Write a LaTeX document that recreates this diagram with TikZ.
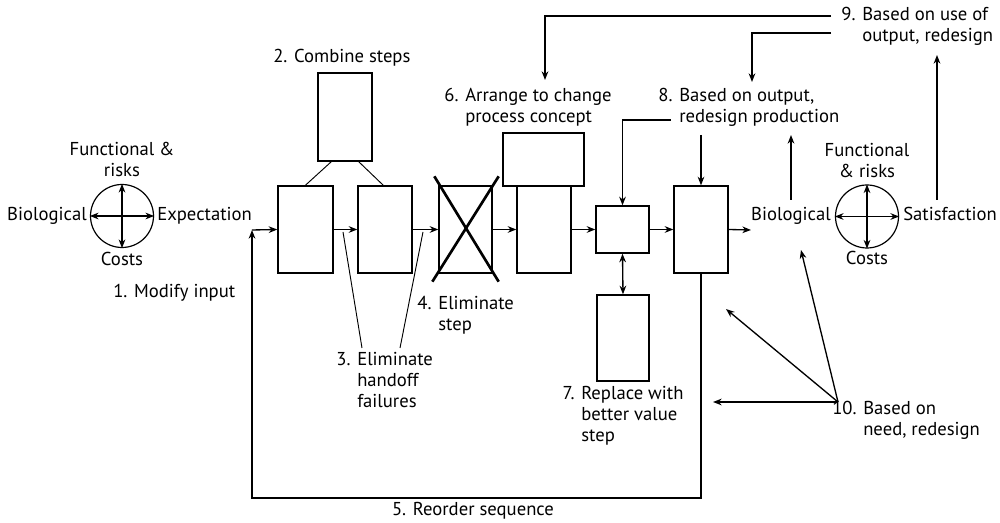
\documentclass[tikz,border=0pt]{standalone}
\usepackage{fontspec}
\setmainfont{PT Sans}
\usetikzlibrary{arrows.meta,fit,calc}
\newcommand{\mlines}[2][l]{\begin{tabular}[t]{@{}#1@{}}#2\end{tabular}}
\begin{document}
\begin{tikzpicture}[x=0.75pt,y=-0.75pt,
  lbl/.style={inner sep=0pt, font=\fontsize{14}{15.75}\selectfont},
  stepbox/.style={draw, line width=1pt, inner sep=0pt},
  arr/.style={-{Stealth[length=6.5pt,width=5pt]}, line width=1pt},
  darr/.style={{Stealth[length=6.5pt,width=5pt]}-{Stealth[length=6.5pt,width=5pt]}, line width=1pt},
  thinline/.style={line width=0.7pt},
  crossline/.style={line width=2pt},
  loopline/.style={line width=1.3pt},
  ring/.style={circle, draw, line width=0.9pt, minimum size=47.25pt, inner sep=0pt}]
\useasboundingbox (0,0) rectangle (1000,523);

% ---- left compass
\node[ring] (c1) at (122,216) {};
\draw[darr] (c1.west) -- (c1.east);
\draw[darr] (c1.north) -- (c1.south);
\node[lbl, anchor=base] (fr1) at (122,156) {\mlines[c]{Functional \&\\risks}};
\node[lbl, anchor=base] (co1) at (122,266) {Costs};
\node[lbl, anchor=base east] (bi1) at (87,221) {Biological};
\node[lbl, anchor=base west] (ex1) at (157,221) {Expectation};
\node[lbl, anchor=base west] (l1) at (113,298) {1. Modify input};

% ---- boxes
\node[stepbox, fit={(278,186) (333,273)}] (A) {};
\node[stepbox, fit={(318,73) (372,161)}] (T2) {};
\node[stepbox, fit={(358,186) (412,273)}] (B) {};
\node[stepbox, fit={(439,186) (492,273)}] (C) {};
\node[stepbox, fit={(503,133) (584,186)}] (T6) {};
\node[stepbox, fit={(517,186) (571,273)}] (D) {};
\node[stepbox, fit={(596,206) (649,253)}] (E) {};
\node[stepbox, fit={(674,186) (728,273)}] (F) {};
\node[stepbox, fit={(597,295) (649,381)}] (G) {};

% combine lines
\draw[thinline] ($(T2.south west)+(14,0)$) -- ($(A.north west)+(28,0)$);
\draw[thinline] ($(T2.south east)+(-14,0)$) -- ($(B.north west)+(26,0)$);

% cross
\draw[crossline] ($(C.south west)+(-6,8)$) -- ($(C.north east)+(6,-9)$);
\draw[crossline] ($(C.north west)+(-4,-9)$) -- ($(C.south east)+(6,8)$);

% main flow
\coordinate (in) at (252,230);
\coordinate (out) at (751,230);
\draw[arr] (in) -- (A.west);
\draw[arr] (A.east) -- (B.west);
\draw[arr] (B.east) -- (C.west);
\draw[arr] (C.east) -- (D.west);
\draw[arr] (D.east) -- (E.west);
\draw[arr] (E.east) -- (F.west);
\draw[arr] (F.east) -- (out);
\draw[darr] (E.south) -- (G.north);

% reorder loop
\draw[loopline, -{Stealth[length=6.5pt,width=5pt]}] (F.south) -- ++(0,224) -| (in);
\node[lbl, anchor=base] (l5) at (473,516) {5. Reorder sequence};

% labels
\node[lbl, anchor=base west] (l2) at (273,63) {2. Combine steps};
\node[lbl, anchor=base west] (l3) at (357,366) {\mlines{\llap{3. }Eliminate\\handoff\\failures}};
\node[lbl, anchor=base west] (l4) at (438,310) {\mlines{\llap{4. }Eliminate\\step}};
\node[lbl, anchor=base west] (l6) at (465,102) {\mlines{\llap{6. }Arrange to change\\process concept}};
\node[lbl, anchor=base west] (l7) at (581,400) {\mlines{\llap{7. }Replace with\\better value\\step}};
\node[lbl, anchor=base west] (l8) at (679,102) {\mlines{\llap{8. }Based on output,\\redesign production}};
\node[lbl, anchor=base west] (l9) at (862,21) {\mlines{\llap{9. }Based on use of\\output, redesign}};
\node[lbl, anchor=base west] (l10) at (863,415) {\mlines{\llap{10. }Based on\\need, redesign}};

% handoff pointers
\coordinate (h1s) at (343,232);
\coordinate (h1e) at (362,348);
\coordinate (h2s) at (423,232);
\coordinate (h2e) at (400,348);
\draw[thinline] (h1s) -- (h1e);
\draw[thinline] (h2s) -- (h2e);

% ---- right compass
\node[ring] (c2) at (867,216.5) {};
\draw[darr] (c2.west) -- (c2.east);
\draw[darr] (c2.north) -- (c2.south);
\node[lbl, anchor=base] (fr2) at (867,157) {\mlines[c]{Functional\\\& risks}};
\node[lbl, anchor=base] (co2) at (867,265) {Costs};
\node[lbl, anchor=base east] (bi2) at (831,221) {Biological};
\node[lbl, anchor=base west] (sa2) at (903,221) {Satisfaction};

% feedback arrows
\coordinate (n9a) at (831,16);
\coordinate (n9b) at (831,33);
\coordinate (t6) at (545,80);
\coordinate (t8) at (752,82);
\draw[arr] (n9a) -| (t6);
\draw[arr] (n9b) -| (t8);
\coordinate (s8a) at (671,120);
\coordinate (s8b) at (701,135);
\draw[arr] (s8a) -| (E.north);
\draw[arr] (s8b) -- (F.north);
\coordinate (bu0) at (791,200);
\coordinate (bu1) at (791,135);
\draw[arr] (bu0) -- (bu1);
\coordinate (su0) at (937,200);
\coordinate (su1) at (937,55);
\draw[arr] (su0) -- (su1);

% need hub
\coordinate (hub) at (838,402);
\coordinate (k1) at (713,402);
\coordinate (k2) at (726,309);
\coordinate (k3) at (801,250);
\draw[arr] (hub) -- (k1);
\draw[arr] (hub) -- (k2);
\draw[arr] (hub) -- (k3);
\end{tikzpicture}
\end{document}
